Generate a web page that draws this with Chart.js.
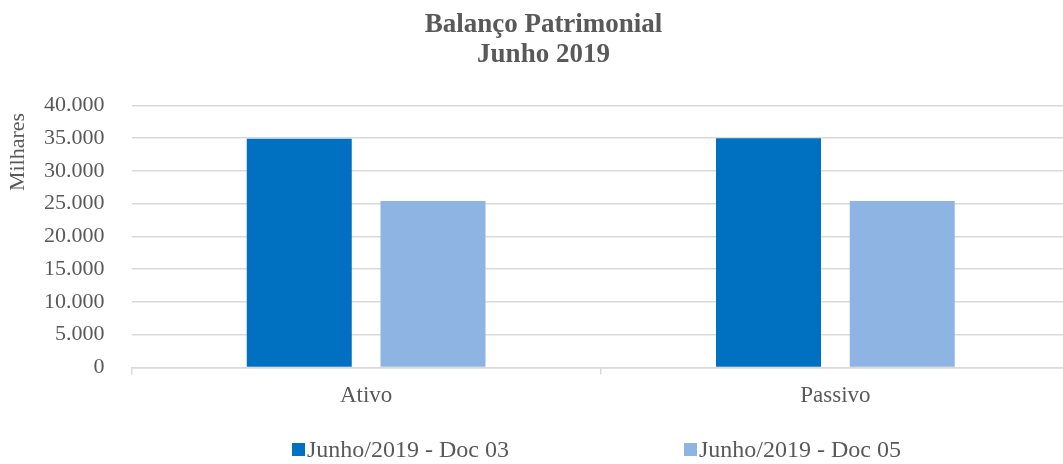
<!DOCTYPE html>
<html>
<head>
<meta charset="utf-8">
<script src="https://cdn.jsdelivr.net/npm/chart.js@4.4.0/dist/chart.umd.min.js"></script>
<style>
  html, body { margin: 0; padding: 0; background: #fff; overflow: hidden; }
  #wrap { width: 1070px; height: 464px; }
</style>
</head>
<body>
<div id="wrap"><canvas id="balancoChart"></canvas></div>
<script>
// Dados do gráfico (valores em milhares)
const categorias = ['Ativo', 'Passivo'];
const serieDoc03 = [34900, 35000];
const serieDoc05 = [25400, 25400];
const nomesSeries = ['Junho/2019 - Doc 03', 'Junho/2019 - Doc 05'];
const tituloLinhas = ['Balanço Patrimonial', 'Junho 2019'];
const unidadeEixo = 'Milhares';

const FONTE = "'Liberation Serif', 'DejaVu Serif', serif";
const CINZA = '#595959';

function formatarMilhar(v) {
    return String(v).replace(/\B(?=(\d{3})+(?!\d))/g, '.');
}

// Legenda e rótulo de unidade desenhados à mão (espaçamento do Excel)
const extrasPlugin = {
    id: 'extrasManuais',
    afterDraw(chart) {
        const ctx = chart.ctx;
        const posicoes = [292, 684];
        const y = 450;
        ctx.save();
        ctx.font = '24px ' + FONTE;
        ctx.textBaseline = 'middle';
        ctx.textAlign = 'left';
        chart.data.datasets.forEach((ds, i) => {
            const x = posicoes[i];
            ctx.fillStyle = ds.backgroundColor;
            ctx.fillRect(x, y - 7, 13, 13);
            ctx.fillStyle = CINZA;
            ctx.fillText(ds.label, x + 15, y + 1);
        });

        // "Milhares" na vertical, junto ao topo do eixo
        ctx.translate(18, 152);
        ctx.rotate(-Math.PI / 2);
        ctx.font = '22px ' + FONTE;
        ctx.textAlign = 'center';
        ctx.fillText(unidadeEixo, 0, 0);
        ctx.restore();
    }
};

new Chart(document.getElementById('balancoChart'), {
    type: 'bar',
    data: {
        labels: categorias,
        datasets: [{
            label: nomesSeries[0],
            data: serieDoc03,
            backgroundColor: '#0070C0',
            borderWidth: 0
        }, {
            label: nomesSeries[1],
            data: serieDoc05,
            backgroundColor: '#8EB4E3',
            borderWidth: 0
        }]
    },
    options: {
        responsive: true,
        maintainAspectRatio: false,
        animation: false,
        categoryPercentage: 0.57,
        barPercentage: 0.785,
        layout: {
            padding: { left: 17, right: 0, top: 6, bottom: 46 }
        },
        scales: {
            x: {
                grid: {
                    display: true,
                    drawOnChartArea: false,
                    drawTicks: true,
                    tickLength: 7,
                    color: '#d9d9d9',
                    lineWidth: 1.5
                },
                border: { display: true, color: '#d9d9d9', width: 1.5 },
                ticks: {
                    color: CINZA,
                    font: { family: FONTE, size: 23 },
                    padding: 8
                }
            },
            y: {
                min: 0,
                max: 40000,
                ticks: {
                    stepSize: 5000,
                    color: CINZA,
                    font: { family: FONTE, size: 22 },
                    padding: 27,
                    callback: v => formatarMilhar(v)
                },
                grid: {
                    color: '#d9d9d9',
                    lineWidth: 1.5,
                    drawTicks: false
                },
                border: { display: false },
                title: { display: false }
            }
        },
        plugins: {
            legend: { display: false },
            tooltip: { enabled: false },
            title: {
                display: true,
                text: tituloLinhas,
                color: CINZA,
                font: { family: FONTE, size: 27, weight: 'bold', lineHeight: 1.12 },
                padding: { top: 4, bottom: 35 }
            }
        }
    },
    plugins: [extrasPlugin]
});
</script>
</body>
</html>
